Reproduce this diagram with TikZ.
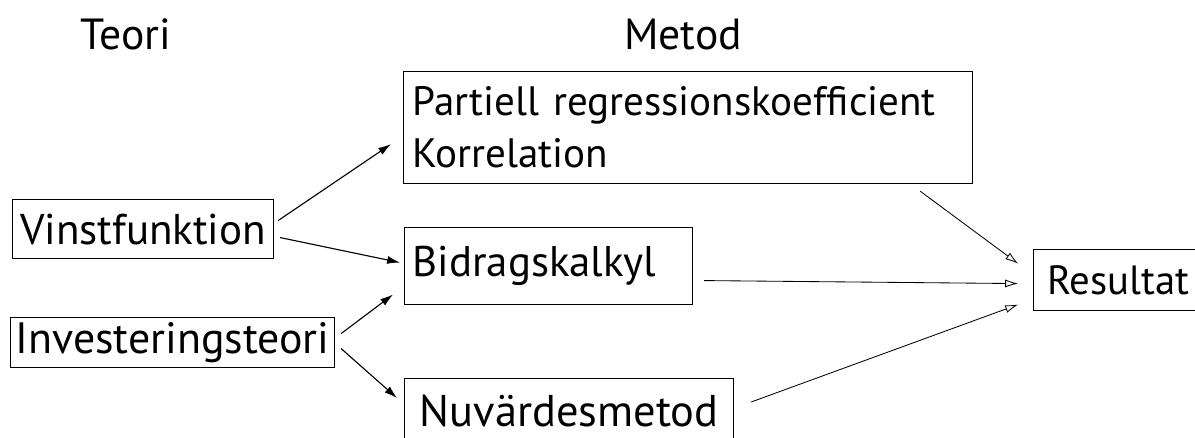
\documentclass[tikz,border=0pt]{standalone}
\usepackage{fontspec}
\setmainfont{PT Sans}
\usetikzlibrary{arrows.meta}
\tikzset{>=stealth}
\tikzset{
  boks/.style={draw, line width=0.8pt, inner sep=0pt, anchor=north west},
  rubrik/.style={font=\fontsize{31}{35}\selectfont},
  fwd/.style={-{Latex[length=3.2mm,width=2mm]}, line width=0.8pt},
  tillres/.style={-{Latex[open,length=3.2mm,width=2mm]}, line width=0.6pt},
}

\begin{document}
\begin{tikzpicture}[x=0.025cm, y=-0.025cm]
      \clip (0,0) rectangle (1195,437);
      \useasboundingbox (0,0) rectangle (1195,437);
      % rubriker
      \node[rubrik] (teori) at (126,34) {Teori};
      \node[rubrik] (metod) at (683,34) {Metod};
      % teori
      \node[boks, minimum width=261*0.025cm, minimum height=59*0.025cm, font=\fontsize{30.6}{35}\selectfont] (vinst) at (12,199) {Vinstfunktion};
      \node[boks, minimum width=324*0.025cm, minimum height=50*0.025cm, font=\fontsize{31.2}{35}\selectfont] (invest) at (10,317) {Investeringsteori};
      % metod
      \node[boks, minimum width=569*0.025cm, minimum height=112*0.025cm, text width=551*0.025cm, align=left, font=\fontsize{29.2}{37}\selectfont] (partiell) at (403,71) {Partiell regressionskoefficient\\Korrelation};
      \node[boks, minimum width=288*0.025cm, minimum height=77*0.025cm, text width=272*0.025cm, align=left, font=\fontsize{30.5}{35}\selectfont] (bidrag) at (404,227) {Bidragskalkyl};
      \node[boks, minimum width=329*0.025cm, minimum height=64*0.025cm, font=\fontsize{31.6}{35}\selectfont] (nuv) at (404,378) {Nuvärdesmetod};
      % resultat
      \node[boks, minimum width=200*0.025cm, minimum height=61*0.025cm, text width=172*0.025cm, align=left, font=\fontsize{29}{33}\selectfont] (result) at (1033,249) {Resultat};
      % pilar
      \draw[fwd] ([shift={(4,-8.5)}]vinst.east) -- ([shift={(-12,-40)}]partiell.south west);
      \draw[fwd] ([shift={(6,8.5)}]vinst.east) -- ([shift={(-4,-3.5)}]bidrag.west);
      \draw[fwd] ([shift={(6,-9)}]invest.east) -- ([shift={(-11,28.5)}]bidrag.west);
      \draw[fwd] ([shift={(6,6)}]invest.east) -- ([shift={(-7,20)}]nuv.north west);
      \draw[tillres] ([shift={(-53,7)}]partiell.south east) -- ([shift={(-15,-16.5)}]result.west);
      \draw[tillres] ([shift={(11,14.5)}]bidrag.east) -- ([shift={(-15,3.5)}]result.west);
      \draw[tillres] ([shift={(17,24)}]nuv.north east) -- ([shift={(-15,24.5)}]result.west);
\end{tikzpicture}
\end{document}
